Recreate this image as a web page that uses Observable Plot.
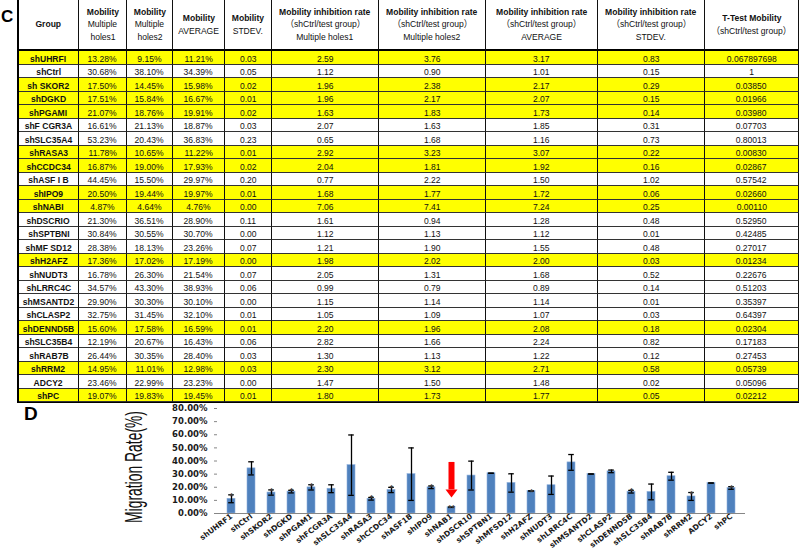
<!DOCTYPE html>
<html><head><meta charset="utf-8">
<script src="https://cdn.jsdelivr.net/npm/d3@7"></script>
<script src="https://cdn.jsdelivr.net/npm/@observablehq/plot@0.6"></script>
<style>
html,body{margin:0;padding:0;background:#fff;}
body{width:800px;height:549px;position:relative;overflow:hidden;font-family:"Liberation Sans",Arial,"Noto Sans CJK SC",sans-serif;}
.panel{position:absolute;font-weight:bold;color:#000;font-family:"Liberation Sans",Arial,sans-serif;}
#tbl{position:absolute;left:17px;top:-1px;display:grid;border-left:2px solid #000;border-top:1px solid #000;border-bottom:1px solid #000;
  grid-template-columns:60px 48px 46px 52px 47px 107px 107px 112px 107px 94px;
  grid-template-rows:51px repeat(26,13.5px);}
.c{box-sizing:border-box;border-right:1.3px solid #111;border-bottom:1px solid #333;display:flex;flex-direction:column;justify-content:flex-end;align-items:center;white-space:nowrap;font-size:9.5px;color:#111;overflow:visible;}
.c span{display:block;transform:scaleX(0.9);line-height:9px;padding-bottom:1px;}
.c.g span{font-weight:bold;}
.c.y{background:#ffff00;}
.c.h{justify-content:center;border-bottom:2px solid #000;}
.c.h span{line-height:12.5px;padding:0;}
.c.h span.b{font-weight:bold;}
#chart{position:absolute;left:0;top:395px;width:800px;}
</style>
</head><body>
<div class="panel" style="left:1px;top:7px;font-size:17px;">C</div>
<div id="tbl"></div>
<div class="panel" style="left:24px;top:403px;font-size:19px;">D</div>
<div id="chart"></div>
<script>
// ---------- data ----------
const groups = ["shUHRFI","shCtrl","sh SKOR2","shDGKD","shPGAMI","shF CGR3A","shSLC35A4","shRASA3","shCCDC34","shASF I B","shIPO9","shNABI","shDSCRIO","shSPTBNI","shMF SD12","shH2AFZ","shNUDT3","shLRRC4C","shMSANTD2","shCLASP2","shDENND5B","shSLC35B4","shRAB7B","shRRM2","ADCY2","shPC"];
const chartLabels = ["shUHRF1","shCtrl","shSKOR2","shDGKD","shPGAM1","shFCGR3A","shSLC35A4","shRASA3","shCCDC34","shASF1B","shIPO9","shNAB1","shDSCR10","shSPTBN1","shMFSD12","shH2AFZ","shNUDT3","shLRRC4C","shMSANTD2","shCLASP2","shDENND5B","shSLC35B4","shRAB7B","shRRM2","ADCY2","shPC"];
const holes1 = [13.28,30.68,17.50,17.51,21.07,16.61,53.23,11.78,16.87,44.45,20.50,4.87,21.30,30.84,28.38,17.36,16.78,34.57,29.90,32.75,15.60,12.19,26.44,14.95,23.46,19.07];
const holes2 = [9.15,38.10,14.45,15.84,18.76,21.13,20.43,10.65,19.00,15.50,19.44,4.64,36.51,30.55,18.13,17.02,26.30,43.30,30.30,31.45,17.58,20.67,30.35,11.01,22.99,19.83];
const average = [11.21,34.39,15.98,16.67,19.91,18.87,36.83,11.22,17.93,29.97,19.97,4.76,28.90,30.70,23.26,17.19,21.54,38.93,30.10,32.10,16.59,16.43,28.40,12.98,23.23,19.45];
const stdev = [0.03,0.05,0.02,0.01,0.02,0.03,0.23,0.01,0.02,0.20,0.01,0.00,0.11,0.00,0.07,0.00,0.07,0.06,0.00,0.01,0.01,0.06,0.03,0.03,0.00,0.01];
const inh1 = [2.59,1.12,1.96,1.96,1.63,2.07,0.65,2.92,2.04,0.77,1.68,7.06,1.61,1.12,1.21,1.98,2.05,0.99,1.15,1.05,2.20,2.82,1.30,2.30,1.47,1.80];
const inh2 = [3.76,0.90,2.38,2.17,1.83,1.63,1.68,3.23,1.81,2.22,1.77,7.41,0.94,1.13,1.90,2.02,1.31,0.79,1.14,1.09,1.96,1.66,1.13,3.12,1.50,1.73];
const inhAvg = [3.17,1.01,2.17,2.07,1.73,1.85,1.16,3.07,1.92,1.50,1.72,7.24,1.28,1.12,1.55,2.00,1.68,0.89,1.14,1.07,2.08,2.24,1.22,2.71,1.48,1.77];
const inhSd = [0.83,0.15,0.29,0.15,0.14,0.31,0.73,0.22,0.16,1.02,0.06,0.25,0.48,0.01,0.48,0.03,0.52,0.14,0.01,0.03,0.18,0.82,0.12,0.58,0.02,0.05];
const ttest = ["0.067897698","1","0.03850","0.01966","0.03980","0.07703","0.80013","0.00830","0.02867","0.57542","0.02660","0.00110","0.52950","0.42485","0.27017","0.01234","0.22676","0.51203","0.35397","0.64397","0.02304","0.17183","0.27453","0.05739","0.05096","0.02212"];
const highlightRows = ["shUHRFI","sh SKOR2","shDGKD","shPGAMI","shRASA3","shCCDC34","shIPO9","shNABI","shH2AFZ","shDENND5B","shRRM2","shPC"];
const stars = ["*","","*","*","*","","","*","*","","*","**","","","","*","","","","","*","","","*","","*"];
const yTicks = [0,0.1,0.2,0.3,0.4,0.5,0.6,0.7,0.8];
const arrowNotes = [{label:"shNAB1", from:0.389, to:0.18, head:0.153}];
const headers = [
  [["Group",1]],
  [["Mobility",1],["Multiple",0],["holes1",0]],
  [["Mobility",1],["Multiple",0],["holes2",0]],
  [["Mobility",1],["AVERAGE",0]],
  [["Mobility",1],["STDEV.",0]],
  [["Mobility inhibition rate",1],["（shCtrl/test group）",0],["Multiple holes1",0]],
  [["Mobility inhibition rate",1],["（shCtrl/test group）",0],["Multiple holes2",0]],
  [["Mobility inhibition rate",1],["（shCtrl/test group）",0],["AVERAGE",0]],
  [["Mobility inhibition rate",1],["（shCtrl/test group）",0],["STDEV.",0]],
  [["T-Test Mobility",1],["（shCtrl/test group）",0]]
];

// ---------- table ----------
const tbl = d3.select("#tbl");
headers.forEach(lines => {
  const c = tbl.append("div").attr("class","c h");
  lines.forEach(([t,b]) => c.append("span").attr("class", b ? "b" : null).text(t));
});
groups.forEach((g,i) => {
  const row = [g, holes1[i].toFixed(2)+"%", holes2[i].toFixed(2)+"%", average[i].toFixed(2)+"%", stdev[i].toFixed(2),
    inh1[i].toFixed(2), inh2[i].toFixed(2), inhAvg[i].toFixed(2), inhSd[i].toFixed(2), ttest[i]];
  const y = highlightRows.includes(g);
  row.forEach((v,j) => {
    tbl.append("div").attr("class","c"+(y?" y":"")+(j===0?" g":"")).append("span").text(v);
  });
});

// ---------- chart ----------
const chartData = chartLabels.map((label,i)=>({label, avg: average[i]/100, sd: stdev[i], star: stars[i]}));
const arrowHead = {draw(ctx, size){ const r=Math.sqrt(size/Math.PI); ctx.moveTo(-1.2*r,-0.8*r); ctx.lineTo(1.2*r,-0.8*r); ctx.lineTo(0,0.8*r); ctx.closePath(); }};
const chart = Plot.plot({
  width: 800, height: 154, marginLeft: 217, marginRight: 55, marginTop: 13, marginBottom: 36,
  style: {background: "transparent", fontFamily: "'Liberation Sans', Arial, sans-serif", overflow: "visible"},
  x: {domain: chartLabels, paddingInner: 0.62, paddingOuter: 0.31, label: null},
  y: {domain: [0, 0.8], label: null},
  marks: [
    Plot.barY(chartData, {x:"label", y:"avg", fill:"#4f81bd", stroke:"#8eb0dc", strokeWidth:0.6}),
    Plot.ruleY([0], {stroke:"#868686"}),
    Plot.ruleX(chartData, {x:"label", y1: d=>Math.max(0,d.avg-d.sd), y2: d=>d.avg+d.sd, stroke:"#000", strokeWidth:1.3}),
    Plot.tickY(chartData, {x:"label", y: d=>Math.max(0,d.avg-d.sd), stroke:"#000", strokeWidth:1.3, insetLeft:1.2, insetRight:1.2}),
    Plot.tickY(chartData, {x:"label", y: d=>d.avg+d.sd, stroke:"#000", strokeWidth:1.3, insetLeft:1.2, insetRight:1.2}),
    Plot.text(chartData.filter(d=>d.star), {x:"label", y: d=>d.avg+d.sd, text:"star", lineAnchor:"bottom", dy:4, fontSize:9, fontWeight:"bold", fill:"#404040"}),
    Plot.ruleX(arrowNotes, {x:"label", y1:"from", y2:"to", stroke:"#ff0000", strokeWidth:6}),
    Plot.dot(arrowNotes, {x:"label", y:"head", symbol: arrowHead, r:5, fill:"#ff0000", stroke:"none"}),
    Plot.axisY({ticks: yTicks, tickFormat: d3.format(".2%"), tickSize:3, tickPadding:7, stroke:"#868686", fill:"#1a1a1a", line:true,
      label:"Migration Rate(%)", labelAnchor:"center", labelArrow:"none", labelOffset:93, fontSize:8.5, fontWeight:"bold", fontFamily:"DejaVu Sans"}),
    Plot.axisX({tickRotate:-37, tickSize:0, tickPadding:2, fontSize:7.5, fontWeight:"bold", fontFamily:"DejaVu Sans", fill:"#1a1a1a", label:null})
  ]
});
document.getElementById("chart").appendChild(chart);
const s = d3.select(chart);
s.selectAll('g[aria-label="y-axis label"] text').each(function(){
  const t = this.getAttribute("transform") || "";
  this.setAttribute("transform", "translate(0,6) " + t);
}).style("font-size","24px").style("font-weight","normal").style("font-family","'Liberation Sans', Arial, sans-serif").attr("fill","#111")
  .attr("textLength",112).attr("lengthAdjust","spacingAndGlyphs");
</script>
</body></html>
